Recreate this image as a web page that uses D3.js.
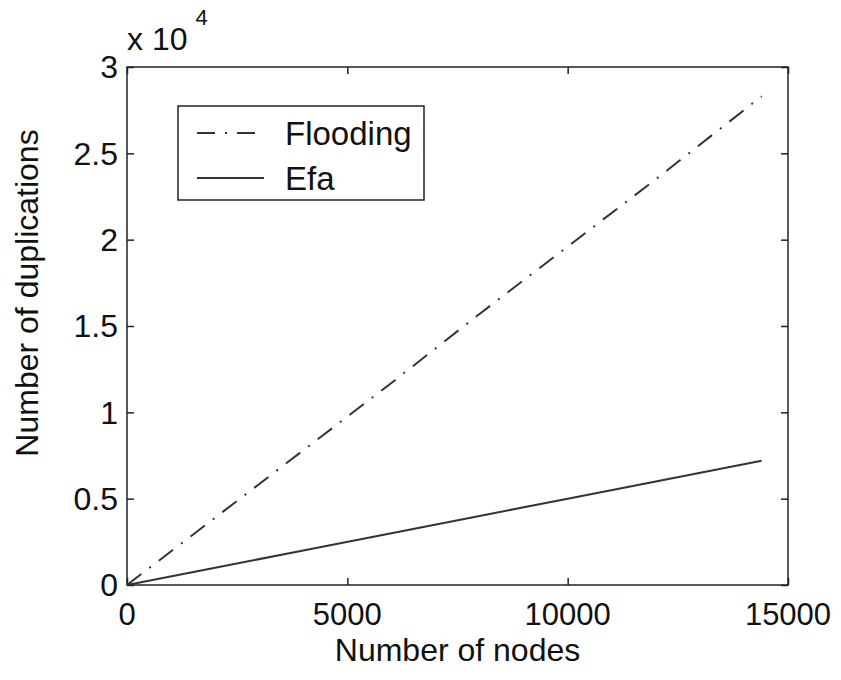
<!DOCTYPE html>
<html>
<head>
<meta charset="utf-8">
<script src="https://cdn.jsdelivr.net/npm/d3@7"></script>
<style>
  body { margin: 0; background: #fff; }
  svg text { font-family: "Liberation Sans", Arial, sans-serif; fill: #111; }
</style>
</head>
<body>
<script>
// values
var nodes = [0, 2000, 4000, 6000, 8000, 10000, 12000, 14400];
var flooding = [0, 3900, 7800, 11700, 15700, 19600, 23500, 28300];
var efa = [0, 1000, 2000, 3000, 4000, 5000, 6000, 7200];
var xTicks = [0, 5000, 10000, 15000];
var yTicks = [0, 5000, 10000, 15000, 20000, 25000, 30000];
var yTickLabels = ["0", "0.5", "1", "1.5", "2", "2.5", "3"];

var series = [
  {name: "Flooding", values: flooding, dash: "18,10,2,10"},
  {name: "Efa", values: efa, dash: null}
];

var W = 841, H = 680;
var plotL = 127, plotR = 788, plotT = 67, plotB = 585;

var svg = d3.select("body").append("svg")
  .attr("width", W)
  .attr("height", H);

var x = d3.scaleLinear().domain([0, 15000]).range([plotL, plotR]);
var y = d3.scaleLinear().domain([0, 30000]).range([plotB, plotT]);

// inward ticks on all four sides, like matlab
var tickLen = 7;
svg.append("g")
  .attr("transform", "translate(0," + plotB + ")")
  .call(d3.axisTop(x).tickValues(xTicks).tickSize(tickLen).tickFormat(""));
svg.append("g")
  .attr("transform", "translate(0," + plotT + ")")
  .call(d3.axisBottom(x).tickValues(xTicks).tickSize(tickLen).tickFormat(""));
svg.append("g")
  .attr("transform", "translate(" + plotL + ",0)")
  .call(d3.axisRight(y).tickValues(yTicks).tickSize(tickLen).tickFormat(""));
svg.append("g")
  .attr("transform", "translate(" + plotR + ",0)")
  .call(d3.axisLeft(y).tickValues(yTicks).tickSize(tickLen).tickFormat(""));
svg.selectAll(".domain").remove();
svg.selectAll(".tick line").attr("stroke", "#222").attr("stroke-width", 1.5);

svg.append("rect")
  .attr("x", plotL).attr("y", plotT)
  .attr("width", plotR - plotL).attr("height", plotB - plotT)
  .attr("fill", "none")
  .attr("stroke", "#222")
  .attr("stroke-width", 1.5);

// tick labels
svg.selectAll(".xlab").data(xTicks).enter().append("text")
  .attr("x", function(d){ return x(d); })
  .attr("y", 625)
  .attr("text-anchor", "middle")
  .style("font-size", "31px")
  .text(function(d){ return d; });

svg.selectAll(".ylab").data(yTicks).enter().append("text")
  .attr("x", 118)
  .attr("y", function(d){ return y(d); })
  .attr("dy", "0.35em")
  .attr("text-anchor", "end")
  .style("font-size", "32px")
  .text(function(d, i){ return yTickLabels[i]; });

// exponent
var expo = svg.append("text")
  .attr("x", 127)
  .attr("y", 50)
  .style("font-size", "32px");
expo.append("tspan").text("x 10");
expo.append("tspan")
  .attr("dx", 8)
  .attr("dy", -25)
  .style("font-size", "22px")
  .text("4");

// axis titles
svg.append("text")
  .attr("x", (plotL + plotR) / 2)
  .attr("y", 661)
  .attr("text-anchor", "middle")
  .style("font-size", "32px")
  .text("Number of nodes");

svg.append("text")
  .attr("transform", "translate(38,293) rotate(-90)")
  .attr("text-anchor", "middle")
  .style("font-size", "32px")
  .text("Number of duplications");

// lines
var line = d3.line()
  .x(function(d){ return x(d[0]); })
  .y(function(d){ return y(d[1]); });

series.forEach(function(s){
  svg.append("path")
    .datum(nodes.map(function(n, i){ return [n, s.values[i]]; }))
    .attr("d", line)
    .attr("fill", "none")
    .attr("stroke", "#333")
    .attr("stroke-width", 2)
    .attr("stroke-dasharray", s.dash);
});

// legend
var legend = svg.append("g");
legend.append("rect")
  .attr("x", 178).attr("y", 106)
  .attr("width", 246).attr("height", 94)
  .attr("fill", "#fff")
  .attr("stroke", "#222")
  .attr("stroke-width", 1.5);

series.forEach(function(s, i){
  var ly = 133 + i * 45;
  legend.append("line")
    .attr("x1", 197).attr("x2", 264)
    .attr("y1", ly).attr("y2", ly)
    .attr("stroke", "#333")
    .attr("stroke-width", 2)
    .attr("stroke-dasharray", s.dash);
  legend.append("text")
    .attr("x", 285)
    .attr("y", ly)
    .attr("dy", "0.35em")
    .style("font-size", "33px")
    .text(s.name);
});
</script>
</body>
</html>
